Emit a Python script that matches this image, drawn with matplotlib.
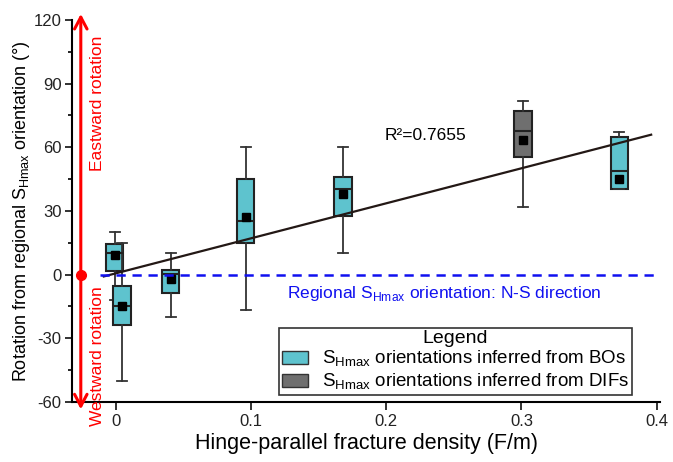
import matplotlib
matplotlib.use("Agg")
import matplotlib.pyplot as plt
from matplotlib.patches import Patch

plt.rcParams['font.family'] = ['Liberation Sans', 'DejaVu Sans']
plt.rcParams['axes.unicode_minus'] = False

# box positions (fracture density, F/m) and box statistics (degrees)
positions = [-0.001, 0.0045, 0.0405, 0.096, 0.168, 0.301, 0.3725]
q1 = [1.9, -23.9, -8.8, 14.8, 27.7, 55.3, 40.4]
q3 = [14.3, -5.5, 2.1, 45.0, 46.2, 77.1, 64.7]
med = [10.1, -14.7, 0.2, 25.3, 40.5, 67.8, 49.0]
means = [9.0, -14.7, -2.2, 26.9, 38.0, 63.5, 45.1]
whislo = [-12.0, -50.0, -19.8, -16.5, 10.0, 32.0, 40.4]
whishi = [20.0, 15.0, 10.0, 60.2, 60.0, 82.0, 67.2]
source = ['BO', 'BO', 'BO', 'BO', 'BO', 'DIF', 'BO']

fit_slope = 164.9
fit_intercept = 0.6
fit_range = [-0.009, 0.396]
r2_text = "R²=0.7655"

colors = {'BO': '#5EC3CE', 'DIF': '#6F6F6F'}

fig = plt.figure(figsize=(6.73, 4.62), dpi=100)
ax = fig.add_axes([0.107, 0.13, 0.874, 0.827])

stats = []
for i in range(len(positions)):
    stats.append(dict(med=med[i], q1=q1[i], q3=q3[i], whislo=whislo[i],
                      whishi=whishi[i], mean=means[i], fliers=[]))

bp = ax.bxp(stats, positions=positions, widths=0.013, capwidths=0.0075,
            patch_artist=True, showmeans=True, manage_ticks=False,
            boxprops=dict(edgecolor='#222222', linewidth=1.5),
            whiskerprops=dict(color='#333333', linewidth=1.3),
            capprops=dict(color='#333333', linewidth=1.3),
            medianprops=dict(color='#222222', linewidth=1.5),
            meanprops=dict(marker='s', markerfacecolor='black',
                           markeredgecolor='black', markersize=6))
for box, s in zip(bp['boxes'], source):
    box.set_facecolor(colors[s])

# linear fit
fx = fit_range
fy = [fit_slope * v + fit_intercept for v in fx]
ax.plot(fx, fy, color='#231815', lw=1.6, zorder=3)
ax.text(0.1985, 65.5, r2_text, fontsize=12.5, ha='left', va='center')

# regional SHmax reference line
ax.plot([-0.012, 0.398], [0, 0], color='#1010F0', lw=1.8,
        linestyle=(0, (3.7, 2.7)), zorder=4)
ax.text(0.1265, -9, r"Regional S$_{\mathregular{Hmax}}$ orientation: N-S direction",
        color='#1010F0', fontsize=12.5, ha='left', va='center')

# rotation arrow
ax.annotate('', xy=(-0.026, 122.8), xytext=(-0.026, -63.5),
            arrowprops=dict(arrowstyle='<->,head_length=0.85,head_width=0.45',
                            color='red', lw=2.2, shrinkA=0, shrinkB=0),
            annotation_clip=False)
ax.plot([-0.026], [0], 'o', color='red', markersize=7, clip_on=False, zorder=5)
ax.text(-0.0135, 80.9, "Eastward rotation", color='red', fontsize=12.5,
        rotation=90, ha='center', va='center')
ax.text(-0.0135, -38.3, "Westward rotation", color='red', fontsize=12.5,
        rotation=90, ha='center', va='center', zorder=6)

ax.set_xlim(-0.0325, 0.4027)
ax.set_ylim(-60, 120)
ax.set_xticks([0, 0.1, 0.2, 0.3, 0.4])
ax.set_xticklabels(['0', '0.1', '0.2', '0.3', '0.4'])
ax.set_yticks(range(-60, 121, 30))
ax.set_yticks(range(-45, 120, 30), minor=True)

for side in ['top', 'right']:
    ax.spines[side].set_visible(False)
for side in ['left', 'bottom']:
    ax.spines[side].set_linewidth(1.5)
ax.tick_params(axis='both', which='major', labelsize=12, width=1.3,
               direction='out', colors='#222222', pad=2.5)
ax.tick_params(axis='y', which='major', length=5)
ax.tick_params(axis='y', which='minor', length=3, width=1.2)
ax.tick_params(axis='x', which='major', length=6)

ax.set_xlabel("Hinge-parallel fracture density (F/m)", fontsize=15.5)
ax.set_ylabel(r"Rotation from regional S$_{\mathregular{Hmax}}$ orientation (°)",
              fontsize=13)
ax.xaxis.set_label_coords(0.5, -0.082)
ax.yaxis.set_label_coords(-0.068, 0.5)

handles = [Patch(facecolor=colors['BO'], edgecolor='#333333'),
           Patch(facecolor=colors['DIF'], edgecolor='#333333')]
labels = [r"S$_{\mathregular{Hmax}}$ orientations inferred from BOs",
          r"S$_{\mathregular{Hmax}}$ orientations inferred from DIFs"]
leg = ax.legend(handles, labels, title="Legend", loc='lower right',
                bbox_to_anchor=(0.952, 0.018), fontsize=13.5, title_fontsize=14,
                fancybox=False, framealpha=1, edgecolor='#333333',
                handlelength=1.4, handleheight=0.7, handletextpad=0.75,
                borderpad=0.15, labelspacing=0.15, borderaxespad=0)
leg.get_frame().set_linewidth(1.2)
leg._legend_box.sep = 1

fig.savefig("out.png", dpi=100)
